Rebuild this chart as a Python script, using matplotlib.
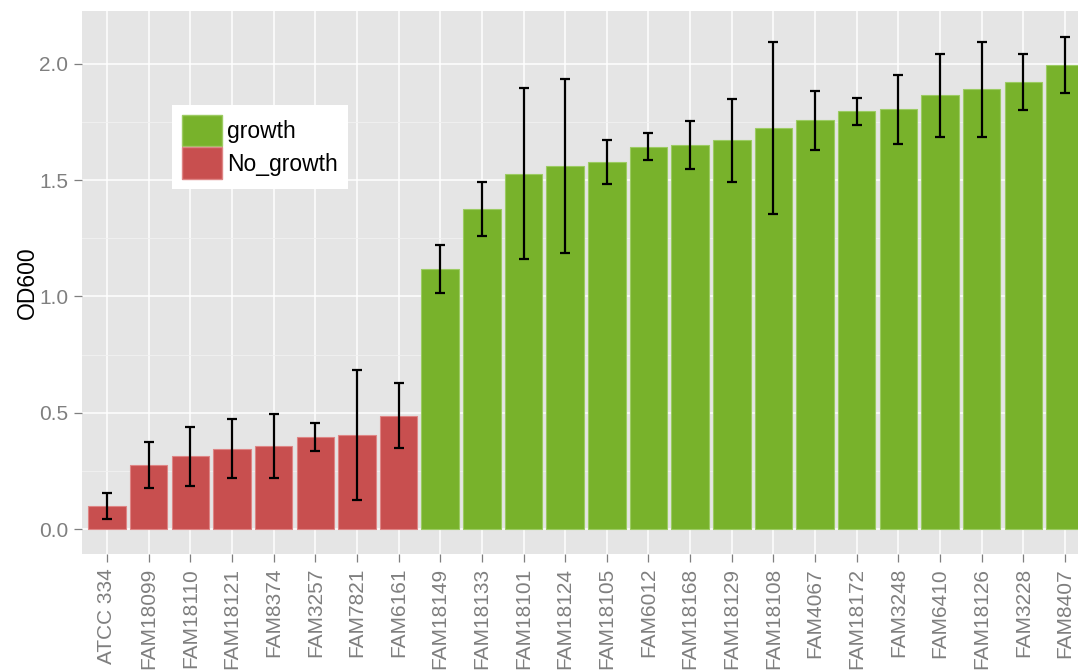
import numpy as np
import matplotlib
matplotlib.use("Agg")
import matplotlib.pyplot as plt
from matplotlib.patches import Patch
from matplotlib.ticker import MultipleLocator, FormatStrFormatter

plt.rcParams['font.family'] = ['Liberation Sans', 'DejaVu Sans']

# ---------- data ----------
strains = ["ATCC 334", "FAM18099", "FAM18110", "FAM18121", "FAM8374", "FAM3257",
           "FAM7821", "FAM6161", "FAM18149", "FAM18133", "FAM18101", "FAM18124",
           "FAM18105", "FAM6012", "FAM18168", "FAM18129", "FAM18108", "FAM4067",
           "FAM18172", "FAM3248", "FAM6410", "FAM18126", "FAM3228", "FAM8407"]
od600 = [0.10, 0.275, 0.313, 0.347, 0.358, 0.397, 0.406, 0.488,
         1.117, 1.375, 1.527, 1.561, 1.577, 1.642, 1.651, 1.671,
         1.722, 1.756, 1.796, 1.803, 1.865, 1.890, 1.920, 1.993]
od600_sd = [0.056, 0.098, 0.127, 0.125, 0.139, 0.061, 0.278, 0.140,
            0.104, 0.115, 0.368, 0.374, 0.096, 0.058, 0.104, 0.178,
            0.369, 0.128, 0.058, 0.147, 0.178, 0.205, 0.121, 0.120]
status = ["No_growth"] * 8 + ["growth"] * 16

colors = {"growth": "#78B22B", "No_growth": "#C84F4F"}
edges = {"growth": "#9CCB62", "No_growth": "#DE8585"}

# ---------- figure ----------
W, H, DPI = 1078, 670, 100
fig = plt.figure(figsize=(W / DPI, H / DPI), dpi=DPI)
# panel runs past the right edge of the canvas
left, right, top, bottom = 82, 1090, 11, 554
ax = fig.add_axes([left / W, 1 - bottom / H, (right - left) / W, (bottom - top) / H])
ax.set_facecolor("#E5E5E5")
for s in ax.spines.values():
    s.set_visible(False)

x = np.arange(len(strains))
ax.bar(x, od600, width=0.9,
       color=[colors[s] for s in status],
       edgecolor=[edges[s] for s in status], linewidth=0.8, zorder=2)
ax.errorbar(x, od600, yerr=od600_sd, fmt="none", ecolor="black",
            elinewidth=1.6, capsize=3.6, capthick=1.6, zorder=3)

ax.set_xlim(-0.6, len(strains) - 0.4)
ax.set_ylim(-0.106, 2.226)
ax.yaxis.set_major_locator(MultipleLocator(0.5))
ax.yaxis.set_minor_locator(MultipleLocator(0.25))
ax.yaxis.set_major_formatter(FormatStrFormatter("%.1f"))
ax.set_xticks(x)
ax.set_xticklabels(strains, rotation=90)

ax.grid(which="major", color="white", linewidth=1.1, zorder=0)
ax.grid(which="minor", axis="y", color="#F2F2F2", linewidth=0.6, zorder=0)
ax.set_axisbelow(True)

ax.tick_params(axis="both", which="major", length=5.5, width=0.9, color="#7F7F7F",
               labelcolor="#7F7F7F", labelsize=15, pad=4.5)
ax.tick_params(axis="y", which="minor", length=0)
ax.set_ylabel("OD600", fontsize=16.5, color="black", labelpad=0)

handles = [Patch(facecolor=colors["growth"], edgecolor=edges["growth"], label="growth"),
           Patch(facecolor=colors["No_growth"], edgecolor=edges["No_growth"], label="No_growth")]
leg = ax.legend(handles=handles, loc="upper left",
                bbox_to_anchor=(172 / W, 1 - 105 / H), bbox_transform=fig.transFigure,
                borderaxespad=0, fontsize=16.5, handlelength=1.75, handleheight=1.75,
                labelspacing=0.05, handletextpad=0.25, borderpad=0.42,
                fancybox=False, framealpha=1, edgecolor="white")
leg.get_frame().set_linewidth(0)

fig.savefig("out.png", dpi=DPI)
